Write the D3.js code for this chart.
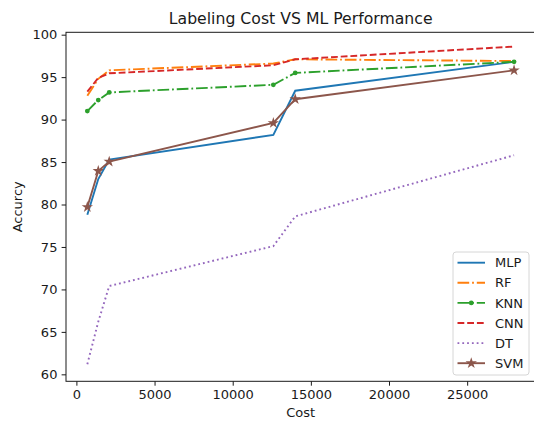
<!DOCTYPE html>
<html lang="en">
<head>
<meta charset="UTF-8">
<title>Labeling Cost VS ML Performance</title>
<script src="https://d3js.org/d3.v7.min.js"></script>
<style>
  body { margin: 0; background: #fff; }
  svg text { font-family: "DejaVu Sans", sans-serif; fill: #1a1a1a; }
</style>
</head>
<body>
<div id="chart"></div>
<script>
// data
const costs = [700, 1400, 2100, 12600, 14000, 28000];
const mlp = [78.8, 83.0, 85.3, 88.2, 93.4, 96.8];
const rf  = [92.8, 94.8, 95.8, 96.6, 97.1, 96.9];
const knn = [91.0, 92.3, 93.2, 94.1, 95.5, 96.8];
const cnn = [93.3, 94.9, 95.45, 96.4, 97.1, 98.6];
const dt  = [61.2, 66.2, 70.4, 75.1, 78.6, 85.8];
const svm = [79.7, 83.95, 85.05, 89.6, 92.4, 95.8];
const xTicks = [0, 5000, 10000, 15000, 20000, 25000];
const yTicks = [60, 65, 70, 75, 80, 85, 90, 95, 100];

const series = [
  { name: "MLP", values: mlp, color: "#1f77b4", dash: null, marker: null },
  { name: "RF",  values: rf,  color: "#ff7f0e", dash: "11.7,2.9,1.8,2.9", marker: null },
  { name: "KNN", values: knn, color: "#2ca02c", dash: "11.7,2.9,1.8,2.9", marker: "dot" },
  { name: "CNN", values: cnn, color: "#d62728", dash: "6.8,2.9", marker: null },
  { name: "DT",  values: dt,  color: "#9467bd", dash: "1.8,3", marker: null },
  { name: "SVM", values: svm, color: "#8c564b", dash: null, marker: "star" }
];

const width = 534, height = 421;
const plotLeft = 66, plotTop = 32.3, plotBottom = 381.3, plotRight = 535.4;

const svg = d3.select("#chart").append("svg")
  .attr("width", width)
  .attr("height", height);

const x = d3.scaleLinear().domain([-665, 29365]).range([plotLeft, plotRight]);
const y = d3.scaleLinear().domain([59.18, 100.28]).range([plotBottom, plotTop]);

// axes
const xAxis = svg.append("g")
  .attr("transform", `translate(0,${plotBottom})`)
  .call(d3.axisBottom(x).tickValues(xTicks).tickSize(4.4).tickPadding(4.2).tickFormat(d3.format("d")));
const yAxis = svg.append("g")
  .attr("transform", `translate(${plotLeft},0)`)
  .call(d3.axisLeft(y).tickValues(yTicks).tickSize(4.4).tickPadding(4.2).tickFormat(d3.format("d")));

[xAxis, yAxis].forEach(g => {
  g.select(".domain").remove();
  g.selectAll(".tick line").attr("stroke", "#1a1a1a").attr("stroke-width", 1);
  g.selectAll(".tick text").style("font-size", "13px").attr("fill", "#1a1a1a");
});

// spines
svg.append("rect")
  .attr("x", plotLeft).attr("y", plotTop)
  .attr("width", plotRight - plotLeft).attr("height", plotBottom - plotTop)
  .attr("fill", "none").attr("stroke", "#1a1a1a").attr("stroke-width", 1);

// lines
const line = d3.line()
  .x((d, i) => x(costs[i]))
  .y(d => y(d));

const plot = svg.append("g");
series.forEach(s => {
  plot.append("path")
    .datum(s.values)
    .attr("fill", "none")
    .attr("stroke", s.color)
    .attr("stroke-width", 1.9)
    .attr("stroke-dasharray", s.dash)
    .attr("d", line);

  if (s.marker === "dot") {
    plot.selectAll(null).data(s.values).enter().append("circle")
      .attr("cx", (d, i) => x(costs[i]))
      .attr("cy", d => y(d))
      .attr("r", 2.4)
      .attr("fill", s.color);
  } else if (s.marker === "star") {
    plot.selectAll(null).data(s.values).enter().append("path")
      .attr("transform", (d, i) => `translate(${x(costs[i])},${y(d)})`)
      .attr("d", d3.symbol().type(d3.symbolStar).size(40))
      .attr("fill", s.color);
  }
});

// title and labels
svg.append("text")
  .attr("x", (plotLeft + plotRight) / 2).attr("y", 23.5)
  .attr("text-anchor", "middle")
  .style("font-size", "15.7px")
  .text("Labeling Cost VS ML Performance");

svg.append("text")
  .attr("x", (plotLeft + plotRight) / 2).attr("y", 417)
  .attr("text-anchor", "middle")
  .style("font-size", "13px")
  .text("Cost");

svg.append("text")
  .attr("transform", `translate(22,${(plotTop + plotBottom) / 2}) rotate(-90)`)
  .attr("text-anchor", "middle")
  .style("font-size", "13px")
  .text("Accurcy");

// legend
const lg = svg.append("g").attr("transform", "translate(453,252)");
lg.append("rect")
  .attr("width", 76).attr("height", 123)
  .attr("rx", 3)
  .attr("fill", "#fff").attr("fill-opacity", 0.8)
  .attr("stroke", "#d6d6d6").attr("stroke-width", 1);

series.forEach((s, i) => {
  const row = lg.append("g").attr("transform", `translate(0,${10.7 + i * 20.1})`);
  row.append("line")
    .attr("x1", 4.5).attr("x2", 32)
    .attr("stroke", s.color).attr("stroke-width", 1.9)
    .attr("stroke-dasharray", s.dash);
  if (s.marker === "dot") {
    row.append("circle").attr("cx", 18.25).attr("r", 2.4).attr("fill", s.color);
  } else if (s.marker === "star") {
    row.append("path").attr("transform", "translate(18.25,0)")
      .attr("d", d3.symbol().type(d3.symbolStar).size(40)).attr("fill", s.color);
  }
  row.append("text")
    .attr("x", 42).attr("y", 4.6)
    .style("font-size", "13px")
    .text(s.name);
});
</script>
</body>
</html>
